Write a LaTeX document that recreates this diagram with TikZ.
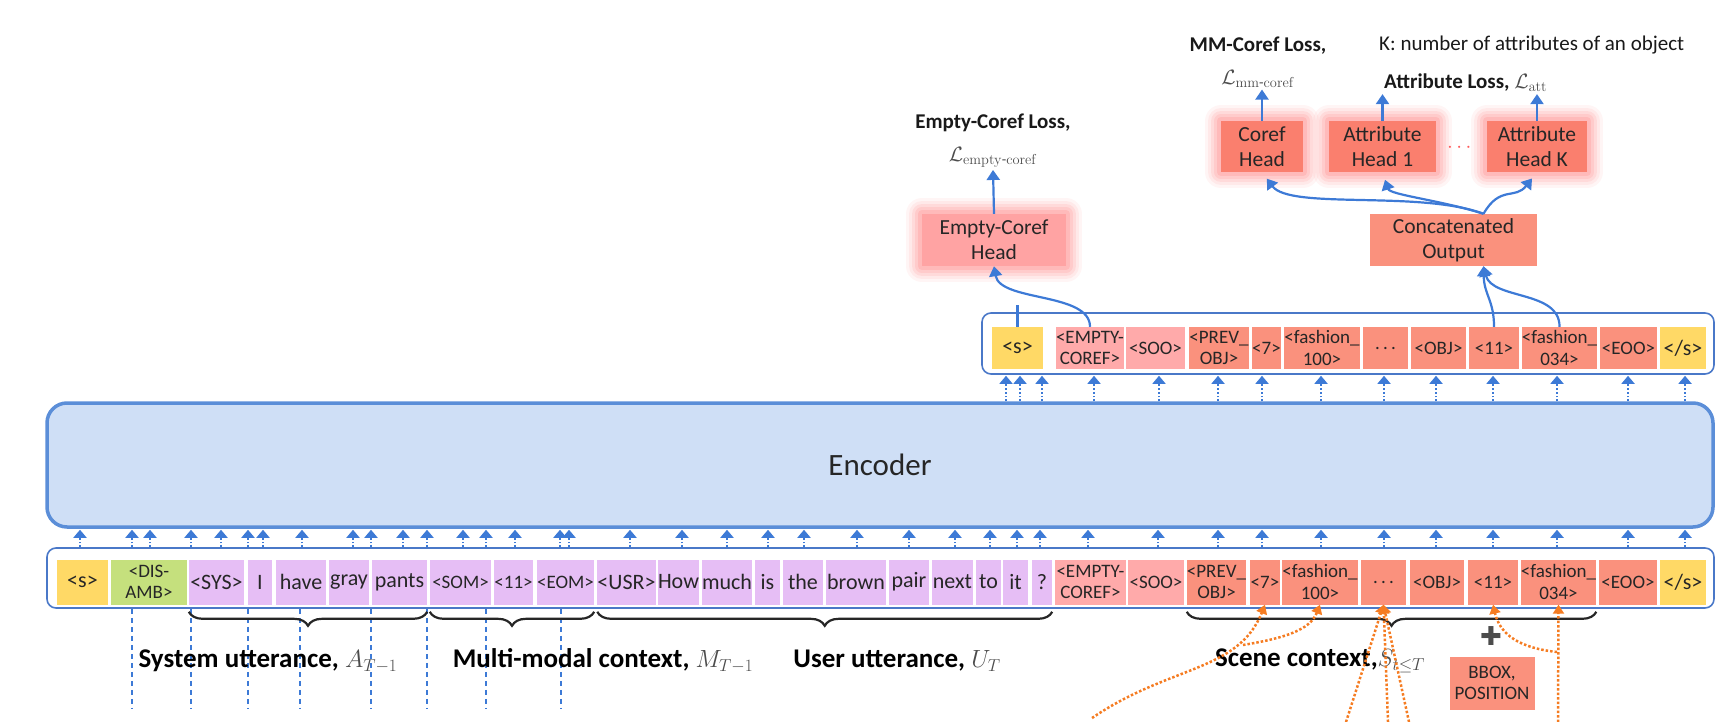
\documentclass[tikz,border=0pt]{standalone}
\usepackage{amsmath}
\usepackage[no-math]{fontspec}
\setmainfont{Carlito}
\newfontfamily\symfont{DejaVu Sans}
\usetikzlibrary{arrows.meta,decorations.pathreplacing,positioning,calc}

\definecolor{tokyellow}{HTML}{FFD966}
\definecolor{tokgreen}{HTML}{C5E07D}
\definecolor{tokpurple}{HTML}{E6BEF5}
\definecolor{toklight}{HTML}{FFAAAA}
\definecolor{toksalmon}{HTML}{FA917D}
\definecolor{headpink}{HTML}{FFA3A3}
\definecolor{headred}{HTML}{FA7F6E}
\definecolor{glowred}{HTML}{FF5A5A}
\definecolor{encfill}{HTML}{CFDFF6}
\definecolor{encline}{HTML}{5B8ED8}
\definecolor{frameblue}{HTML}{4A78C8}
\definecolor{arrowblue}{HTML}{3D7AD6}
\definecolor{dotorange}{HTML}{F57C22}

\newcommand\wordfont{\fontsize{22}{23}\selectfont}
\newcommand\tagfont{\fontsize{19}{21.5}\selectfont}
\newcommand\headfont{\fontsize{21.5}{25}\selectfont}
\newcommand\lossfont{\fontsize{21}{33}\selectfont}
\newcommand\lblfont{\fontsize{27}{30}\selectfont\bfseries}
\newcommand\encfont{\fontsize{31}{36}\selectfont}
\newcommand\plusfont{\symfont\fontsize{26}{28}\selectfont}
\newcommand\mathlbl[1]{{\color{black!70}$#1$}}

\begin{document}
\begin{tikzpicture}
[
    x=1pt, y=-1pt,
    tok/.style={minimum height=45pt, inner sep=0pt, align=center, text=black!85, font=\tagfont},
    sy/.style={fill=tokyellow, font=\wordfont},
    sg/.style={fill=tokgreen},
    sp/.style={fill=tokpurple, font=\wordfont},
    spt/.style={fill=tokpurple},
    sl/.style={fill=toklight},
    so/.style={fill=toksalmon},
    rowframe/.style={draw=frameblue, line width=1.6pt, rounded corners=9pt},
    encoder/.style={draw=encline, fill=encfill, line width=3.5pt, rounded corners=20pt, font=\encfont, text=black!85},
    uparrow/.style={draw=arrowblue, line width=1.8pt, dotted, -{Triangle[length=8pt,width=13pt]}, shorten >=1pt},
    dashline/.style={draw=arrowblue, line width=1.5pt, dash pattern=on 5pt off 4pt},
    flow/.style={draw=arrowblue, line width=2.2pt, -{Triangle[length=10pt,width=13pt]}},
    odot/.style={draw=dotorange, line width=2.5pt, dotted, -{Triangle[length=9pt,width=11pt]}},
    bracestyle/.style={decorate, decoration={brace, mirror, amplitude=14pt, raise=3pt}, line width=2.2pt, draw=black!85},
    lbl/.style={font=\lblfont, inner sep=0pt},
    losslbl/.style={font=\lossfont, align=center, inner sep=2pt, text=black!90},
    head/.style={fill=headred, minimum height=51pt, align=center, font=\headfont, inner sep=1pt, text=black!85},
    headglow/.style={preaction={draw=glowred, draw opacity=.06, line width=32pt, line join=round},
                     preaction={draw=glowred, draw opacity=.08, line width=26pt, line join=round},
                     preaction={draw=glowred, draw opacity=.10, line width=20pt, line join=round},
                     preaction={draw=glowred, draw opacity=.12, line width=14pt, line join=round},
                     preaction={draw=glowred, draw opacity=.15, line width=8pt, line join=round}},
]
\useasboundingbox (0,0) rectangle (1736,722);

% encoder and token frames
\node[encoder, minimum width=1666pt, minimum height=124pt] (enc) at (880,465) {Encoder};
\node[rowframe, minimum width=1667pt, minimum height=60pt] (botbox) at (880.5,578) {};
\node[rowframe, minimum width=732pt, minimum height=61pt] (topbox) at (1348,343.5) {};

% input tokens
\foreach \n/\xa/\xb/\sty/\txt in {
    s/57/108/sy/{<s>}, dis/111/187/sg/{<DIS-\\AMB>}, sys/189/244/sp/{<SYS>}, i/248/272/sp/{I},
    have/276/326/sp/{have}, gray/329/369/sp/{gray}, pants/372/427/sp/{pants},
    som/430/491/spt/{<SOM>}, mm/494/533/spt/{<11>}, eom/537/594/spt/{<EOM>},
    usr/598/655/sp/{<USR>}, how/658/699/sp/{How}, much/702/752/sp/{much}, is/755/780/sp/{is},
    the/783/823/sp/{the}, brown/826/886/sp/{brown}, pair/889/929/sp/{pair}, next/932/973/sp/{next},
    to/976/1001/sp/{to}, it/1003/1028/sp/{it}, q/1032/1052/sp/{?},
    ec/1055/1126/sl/{<EMPTY-\\COREF>}, soo/1128/1184/sl/{<SOO>}, prev/1187/1246/so/{<PREV\_\\OBJ>},
    seven/1250/1280/so/{<7>}, fa/1283/1357/so/{<fashion\_\\100>}, dots/1361/1406/so/{.\,.\,.},
    obj/1410/1464/so/{<OBJ>}, eleven/1468/1518/so/{<11>}, fb/1521/1596/so/{<fashion\_\\034>},
    eoo/1599/1657/so/{<EOO>}, end/1660/1706/sy/{</s>}}
    \node[tok, \sty, minimum width={\xb-\xa}] (b\n) at ({(\xa+\xb)/2},582) {\txt};

% output tokens
\foreach \n/\xa/\xb/\sty/\txt in {
    s/992/1043/sy/{<s>}, ec/1056/1124/sl/{<EMPTY-\\COREF>}, soo/1126/1185/sl/{<SOO>},
    prev/1189/1249/so/{<PREV\_\\OBJ>}, seven/1252/1281/so/{<7>}, fa/1284/1360/so/{<fashion\_\\100>},
    dots/1363/1408/so/{.\,.\,.}, obj/1411/1466/so/{<OBJ>}, eleven/1469/1519/so/{<11>},
    fb/1522/1597/so/{<fashion\_\\034>}, eoo/1600/1657/so/{<EOO>}, end/1660/1706/sy/{</s>}}
    \node[tok, \sty, minimum width={\xb-\xa}, minimum height=42pt] (t\n) at ({(\xa+\xb)/2},348) {\txt};

\foreach \x in {80,132,150,191,221,248,263,302,353,371,403,427,463,486,515,560,569,630,682,727,768,804,857,909,955,990,1017,1040,1088,1158,1218,1262,1321,1384,1436,1493,1557,1628,1685}
    \draw[uparrow] (\x,0 |- botbox.north) -- (\x,0 |- enc.south);
\foreach \x in {1006,1020,1042,1094,1159,1218,1262,1321,1384,1436,1493,1557,1628,1685}
    \draw[uparrow] (\x,0 |- enc.north) -- (\x,0 |- topbox.south);
\foreach \x in {132,191,248,300,371,427,486,561}
    \draw[dashline] (\x,0 |- botbox.south) -- ++(0,100);

% segments
\draw[bracestyle] (bsys.south west |- botbox.south) -- (bpants.south east |- botbox.south);
\draw[bracestyle] (bsom.south west |- botbox.south) -- (beom.south east |- botbox.south);
\draw[bracestyle] (busr.south west |- botbox.south) -- (bq.south east |- botbox.south);
\draw[bracestyle] (bprev.south west |- botbox.south) -- (bfb.south east |- botbox.south);
\node[lbl] (lsys) at (268,661) {System utterance, \mathlbl{A_{T-1}}};
\node[lbl] (lmm) at (603,661) {Multi-modal context, \mathlbl{M_{T-1}}};
\node[lbl] (lusr) at (897,661) {User utterance, \mathlbl{U_T}};
\node[lbl] (lscene) at (1320,661) {Scene context,\mathlbl{S_{t\leq T}}};

% scene inputs
\node[text=black!70, font=\plusfont] (plus) at (1491,636) {✚};
\node[fill=toksalmon, minimum width=85pt, minimum height=53pt, align=center, inner sep=0pt, font=\tagfont, text=black!85] (bbox) at (1492,683) {BBOX,\\POSITION};
\coordinate (o1) at (1092,718);
\coordinate (o2) at (1243,645);
\coordinate (o3) at (1346,722);
\coordinate (o4) at (1388,722);
\coordinate (o5) at (1409,722);
\coordinate (o6) at (1558,722);
\coordinate (o7) at (1557,652);
\draw[odot] (o1) .. controls (1170,665) and (1238,672) .. (bseven.south);
\draw[odot] (o2) .. controls (1285,638) and (1310,630) .. (bfa.south);
\draw[odot] (o3) -- (bdots.south);
\draw[odot] (o4) -- (bdots.south);
\draw[odot] (o5) -- (bdots.south);
\draw[odot] (o6) -- (bfb.south);
\draw[odot] (o7) .. controls (1520,648) and (1500,635) .. (beleven.south);

% heads
\node[head, fill=headpink, headglow, minimum width=144pt, minimum height=52pt] (ech) at (994,240) {Empty-Coref\\Head};
\node[head, headglow, minimum width=82pt] (coref) at (1262,146.5) {Coref\\Head};
\node[head, headglow, minimum width=107pt] (attra) at (1382.5,146.5) {Attribute\\Head 1};
\node[head, headglow, minimum width=100pt] (attrk) at (1537,146.5) {Attribute\\Head K};
\node[text=glowred, font=\headfont] (hdots) at (1461,148) {$\cdots$};
\node[head, fill=toksalmon, minimum width=167pt, minimum height=52pt] (cat) at (1453.5,240) {Concatenated\\Output};
\coordinate (catin) at ([xshift=30pt]cat.south);
\coordinate (catout) at ([xshift=30pt]cat.north);

% losses
\node[losslbl] (ecloss) at (993,141) {\textbf{Empty-Coref Loss,}\\ \mathlbl{\mathcal{L}_{\mathrm{empty}\text{-}\mathrm{coref}}}};
\node[losslbl] (mmloss) at (1258,62) {\textbf{MM-Coref Loss,}\\ \mathlbl{\mathcal{L}_{\mathrm{mm}\text{-}\mathrm{coref}}}};
\node[losslbl, anchor=west] (attloss) at (1382,83) {\textbf{Attribute Loss,} \mathlbl{\mathcal{L}_{\mathrm{att}}}};
\node[losslbl, anchor=west] (klbl) at (1377,45) {K: number of attributes of an object};

\draw[flow] (ech.north) -- (ecloss.south);
\draw[flow] (coref.north) -- (coref.north |- mmloss.south);
\draw[flow] (attra.north) -- (attra.north |- attloss.south);
\draw[flow] (attrk.north) -- (attrk.north |- attloss.south);
\draw[flow, -] (ts.north) -- ++(0,-22);
\draw[flow] (tec.north) .. controls (1090,292) and (1000,302) .. (ech.south);
\draw[flow] (televen.north) .. controls (1494,300) and (1484,295) .. (catin);
\draw[flow] (tfb.north) .. controls (1560,290) and (1492,300) .. (catin);
\draw[flow, shorten >=8pt] (catout) .. controls (1420,190) and (1290,210) .. (coref.south);
\draw[flow, shorten >=8pt] (catout) .. controls (1440,200) and (1390,195) .. (attra.south);
\draw[flow, shorten >=8pt] (catout) .. controls (1500,185) and (1515,200) .. (attrk.south);
\end{tikzpicture}
\end{document}
